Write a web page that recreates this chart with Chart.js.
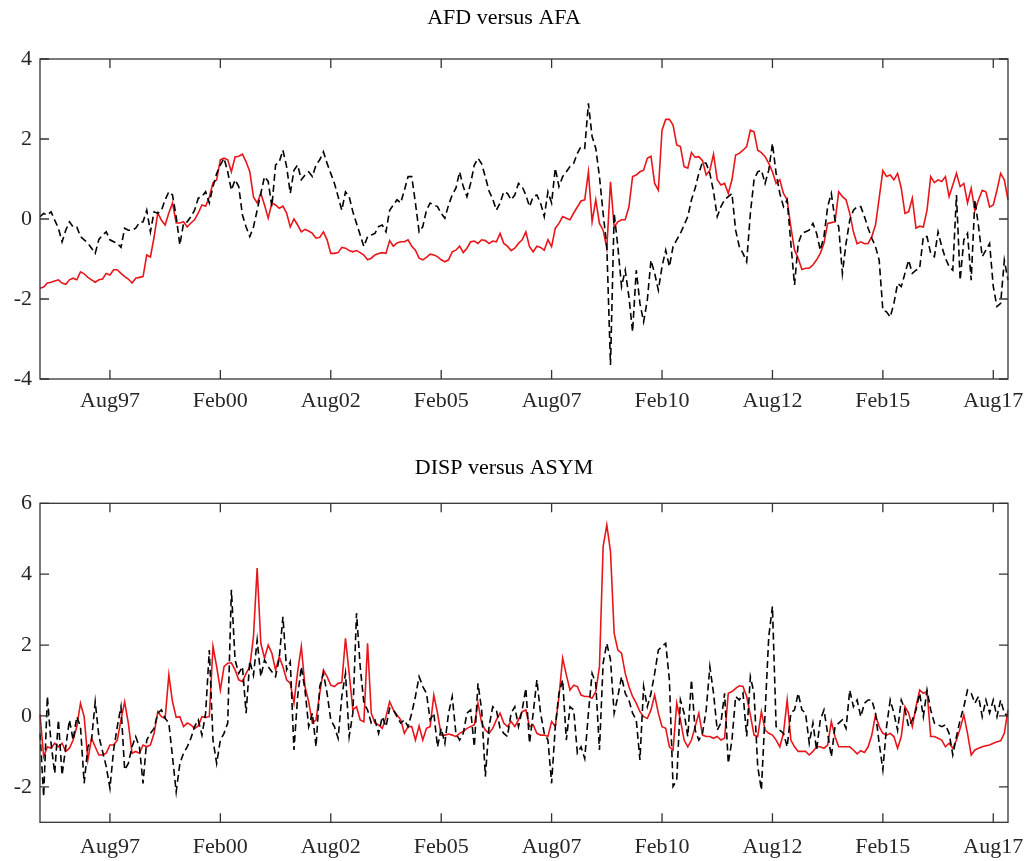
<!DOCTYPE html>
<html>
<head>
<meta charset="utf-8">
<script src="https://cdn.jsdelivr.net/npm/chart.js@4.4.1/dist/chart.umd.min.js"></script>
<style>
  html, body { margin: 0; padding: 0; background: #fff; overflow: hidden; }
  #top { position: absolute; left: 0; top: 0; }
  #bottom { position: absolute; left: 0; top: 440px; }
</style>
</head>
<body>
<canvas id="top" width="1032" height="440"></canvas>
<canvas id="bottom" width="1032" height="430"></canvas>
<script>
// monthly observations, Jan96 .. Dec17
const monthNames = ['Jan','Feb','Mar','Apr','May','Jun','Jul','Aug','Sep','Oct','Nov','Dec'];
const months = [];
for (let yr = 1996; yr <= 2017; yr++) {
  monthNames.forEach(m => months.push(m + String(yr).slice(2)));
}

const tickLabels = ['Aug97','Feb00','Aug02','Feb05','Aug07','Feb10','Aug12','Feb15','Aug17'];
const yTicksTop = [-4, -2, 0, 2, 4];
const yTicksBottom = [-2, 0, 2, 4, 6];

// AFD versus AFA
const afd = [
  -1.73,-1.7,-1.6,-1.58,-1.55,-1.52,-1.6,-1.63,-1.52,-1.48,
  -1.52,-1.32,-1.37,-1.46,-1.52,-1.58,-1.52,-1.5,-1.36,-1.4,
  -1.27,-1.27,-1.36,-1.44,-1.5,-1.6,-1.48,-1.46,-1.44,-0.9,
  -0.95,-0.45,0.15,-0.03,-0.15,0.15,0.4,-0.1,-0.1,-0.07,
  -0.2,-0.1,-0.02,0.15,0.35,0.32,0.55,0.9,0.98,1.48,
  1.52,1.48,1.18,1.55,1.57,1.62,1.43,1.18,0.55,0.4,
  0.64,0.35,0.02,0.4,0.35,0.27,0.32,0.15,-0.2,0,
  -0.15,-0.32,-0.26,-0.3,-0.36,-0.48,-0.46,-0.32,-0.52,-0.86,
  -0.86,-0.84,-0.71,-0.73,-0.79,-0.82,-0.79,-0.84,-0.9,-1.02,
  -0.98,-0.9,-0.86,-0.84,-0.86,-0.54,-0.68,-0.6,-0.57,-0.57,
  -0.52,-0.68,-0.78,-0.98,-1.02,-0.96,-0.88,-0.9,-0.94,-1.02,
  -1.07,-1.02,-0.82,-0.78,-0.68,-0.84,-0.73,-0.57,-0.55,-0.61,
  -0.52,-0.54,-0.61,-0.55,-0.57,-0.36,-0.61,-0.68,-0.79,-0.73,
  -0.61,-0.52,-0.32,-0.69,-0.82,-0.68,-0.71,-0.78,-0.52,-0.69,
  -0.23,-0.11,0.06,0.02,-0.02,0.15,0.3,0.45,0.48,1.18,
  -0.07,0.48,-0.11,-0.28,-0.73,0.93,-0.2,-0.07,-0.02,-0.02,
  0.3,1.06,1.1,1.18,1.22,1.52,1.57,0.89,0.72,2.22,
  2.49,2.49,2.35,1.85,1.81,1.31,1.27,1.66,1.54,1.56,
  1.46,1.1,1.22,1.62,0.98,0.85,0.89,0.64,0.98,1.6,
  1.64,1.72,1.81,2.22,2.18,1.72,1.66,1.56,1.39,1.18,
  0.89,0.98,0.64,0.48,-0.2,-0.78,-0.98,-1.26,-1.23,-1.23,
  -1.15,-1.02,-0.86,-0.61,-0.11,-0.09,-0.07,0.68,0.56,0.48,
  0.14,-0.32,-0.62,-0.57,-0.62,-0.61,-0.44,-0.15,0.52,1.21,
  1.06,1.1,0.98,1.14,0.77,0.14,0.18,0.52,-0.23,-0.18,
  -0.2,0.22,1.06,0.91,0.98,0.94,1.06,0.56,0.85,1.14,
  0.81,0.89,0.4,0.77,0.21,0.48,0.72,0.68,0.3,0.35,
  0.72,1.14,0.98,0.48
];
const afa = [
  0.06,0.14,0.1,0.18,-0.03,-0.23,-0.57,-0.28,-0.07,-0.2,
  -0.2,-0.44,-0.52,-0.6,-0.73,-0.86,-0.51,-0.4,-0.32,-0.52,
  -0.57,-0.61,-0.71,-0.23,-0.28,-0.28,-0.23,-0.09,-0.07,0.22,
  -0.32,0.18,0.14,0.22,0.48,0.68,0.6,0.06,-0.65,-0.11,
  -0.07,0.06,0.22,0.52,0.56,0.68,0.4,0.81,1.14,1.35,
  1.52,1.18,0.72,0.98,0.81,0.1,-0.2,-0.44,-0.2,0.22,
  0.64,1.06,0.94,0.31,1.35,1.43,1.72,1.31,0.64,1.22,
  1.35,0.98,1.1,1.18,1.06,1.35,1.48,1.68,1.39,1.14,
  0.89,0.56,0.22,0.68,0.56,0.18,-0.11,-0.4,-0.69,-0.44,
  -0.4,-0.36,-0.19,-0.15,-0.32,0.22,0.35,0.48,0.4,0.72,
  1.06,1.06,0.4,-0.32,-0.19,0.22,0.4,0.35,0.31,0.14,
  0.02,0.35,0.6,0.77,1.18,0.81,0.56,0.89,1.35,1.52,
  1.38,1.05,0.7,0.5,0.22,0.4,0.68,0.64,0.48,0.6,
  0.89,0.81,0.6,0.31,0.56,0.6,0.4,0.06,0.68,0.4,
  1.27,0.81,1.06,1.18,1.31,1.39,1.64,1.81,1.77,2.89,
  2.06,1.77,1.06,0.14,-0.69,-3.65,0.14,-0.69,-1.69,-1.28,
  -1.94,-2.82,-1.28,-2.11,-2.57,-2.03,-1.03,-1.36,-1.78,-1.19,
  -0.78,-1.19,-0.69,-0.52,-0.36,-0.15,0.06,0.48,0.77,1.14,
  1.43,1.39,1.14,0.68,0.06,0.31,0.48,0.56,0.64,-0.28,
  -0.69,-0.86,-1.07,0.14,0.98,1.18,1.22,0.89,1.22,1.89,
  1.14,0.64,0.31,0.48,-0.61,-1.65,-0.61,-0.36,-0.32,-0.28,
  -0.11,-0.36,-0.78,-0.44,0.31,0.64,-0.03,-0.19,-1.36,-0.61,
  -0.03,0.22,0.31,0.31,0.06,-0.23,-0.48,-0.69,-1.03,-2.28,
  -2.32,-2.45,-2.11,-1.61,-1.69,-1.36,-1.03,-1.36,-1.28,-1.23,
  -0.44,-0.44,-0.86,-0.94,-0.32,-0.69,-0.98,-1.19,-1.28,0.6,
  -1.53,-0.52,-0.36,-1.53,0.48,-0.19,-0.94,-0.78,-0.61,-1.69,
  -2.19,-2.11,-1.03,-1.53
];

// DISP versus ASYM
const disp = [
  0.05,-1.15,-0.87,-0.91,-0.77,-0.87,-0.77,-1.0,-0.91,-0.68,
  -0.3,0.36,-0.02,-1.24,-0.63,-0.87,-1.1,-1.1,-1.05,-0.82,
  -0.82,-0.68,-0.11,0.4,-0.2,-1.05,-1.0,-1.05,-0.82,-0.87,
  -0.82,-0.49,0.12,-0.02,-0.07,1.16,0.4,-0.04,-0.02,-0.3,
  -0.2,-0.25,-0.35,-0.28,-0.02,-0.04,-0.02,1.96,1.39,0.73,
  1.39,1.49,1.5,1.3,1.02,0.97,1.2,1.39,2.24,4.17,
  2.05,1.63,2.0,1.77,1.3,1.67,1.39,1.02,0.92,0.36,
  1.25,1.96,0.83,0.4,-0.2,-0.11,0.64,1.3,1.11,0.87,
  0.83,0.92,0.94,2.19,1.2,0.17,0.26,-0.11,-0.16,2.05,
  0.08,-0.2,-0.25,-0.35,-0.02,0.4,0.17,0.03,-0.11,-0.49,
  -0.3,-0.3,-0.68,-0.28,-0.68,-0.35,-0.3,0.59,0.08,-0.54,
  -0.54,-0.51,-0.54,-0.58,-0.49,-0.44,-0.35,-0.3,-0.25,0.36,
  -0.2,-0.4,-0.49,-0.35,-0.11,0.08,-0.2,-0.3,-0.16,-0.3,
  -0.11,0.12,0.17,-0.3,-0.25,-0.49,-0.54,-0.54,-0.58,-0.16,
  -0.3,0.55,1.63,1.16,0.73,0.87,0.83,0.59,0.55,0.55,
  0.5,0.69,1.39,4.78,5.39,4.64,2.33,1.86,1.77,1.2,
  0.83,0.55,0.36,0.12,-0.02,-0.07,0.17,0.59,0.08,-0.3,
  -0.35,-0.87,-0.96,0.36,-0.11,-0.68,-0.87,-0.68,-0.3,0.08,
  -0.54,-0.58,-0.58,-0.63,-0.58,-0.68,-0.63,0.64,0.69,0.78,
  0.85,0.83,0.55,0.03,-0.54,-0.58,0.12,-0.4,-0.49,-0.54,
  -0.68,-0.87,-0.49,0.45,-0.68,-0.87,-1.0,-1.0,-1.0,-1.1,
  -1.0,-0.87,-0.87,-0.91,-0.82,-0.16,-0.58,-0.87,-0.87,-0.87,
  -0.87,-0.96,-1.07,-0.98,-1.03,-0.87,-0.54,0.03,-0.3,-0.49,
  -0.54,-0.49,-0.58,-0.91,-0.58,0.26,0.08,-0.3,0.26,0.73,
  0.64,0.69,-0.58,-0.58,-0.63,-0.68,-0.87,-0.77,-0.91,-0.68,
  -0.35,0.03,-0.49,-1.1,-0.96,-0.91,-0.87,-0.84,-0.82,-0.77,
  -0.73,-0.7,-0.49,0.17
];
const asym = [
  -0.49,-2.28,0.55,-0.77,-1.62,-0.11,-1.67,-0.87,-0.11,-0.68,
  -0.02,-0.3,-1.9,-0.87,-0.68,0.4,-0.58,-1.0,-1.43,-2.04,
  -0.96,-0.3,0.26,-1.52,-1.34,-0.87,-0.58,-0.87,-1.9,-0.68,
  -0.49,-0.35,0.08,0.17,-0.07,-0.2,-1.15,-2.14,-1.34,-1.05,
  -0.87,-0.63,-0.3,-0.11,-0.54,0.08,1.86,-0.68,-1.34,-0.68,
  -0.49,-0.2,3.56,1.58,1.2,1.39,0.08,1.55,1.15,2.14,
  1.11,1.58,1.39,1.25,1.11,1.63,2.8,1.3,1.53,-0.96,
  0.55,1.39,0.73,-0.3,0.08,-0.87,0.83,1.2,0.64,-0.11,
  -0.3,-0.63,0.55,1.2,-0.58,0.08,2.9,1.39,0.36,0.17,
  -0.2,-0.11,-0.49,-0.02,-0.3,0.22,0.17,-0.02,-0.2,-0.11,
  -0.3,0.08,0.55,1.11,0.83,0.64,-0.11,0.08,-0.87,-0.35,
  -0.77,0.08,0.55,-0.49,-0.68,-0.49,0.08,0.17,-0.87,0.92,
  0.17,-1.71,-0.3,0.26,0.17,-0.35,-0.49,-0.58,0.08,0.26,
  -0.3,0.17,0.78,-0.77,0.08,1.02,0.08,-0.49,-0.68,-1.9,
  -0.3,0.64,1.02,-0.68,0.26,0.17,-1.05,-0.87,-1.2,0.08,
  1.2,0.92,-0.96,1.49,2.05,1.58,0.08,0.55,1.11,0.64,
  0.45,0.08,-0.11,-1.24,0.83,0.26,0.64,1.2,1.86,1.96,
  2.05,1.02,-1.99,-1.81,0.45,0.08,-0.58,1.02,-0.4,-0.68,
  -0.49,0.17,1.39,0.64,-0.4,-0.2,0.64,-1.34,-0.68,0.55,
  0.45,0.64,-0.58,1.11,0.64,-1.43,-2.09,0.08,2.24,3.09,
  -0.3,-0.4,-0.49,-0.87,0.08,0.17,0.64,0.17,0.08,-0.77,
  -0.2,-0.96,-0.11,0.17,-0.49,-1.15,-0.3,-0.2,-0.11,-0.35,
  0.73,0.26,0.45,-0.02,0.36,0.45,0.45,0.08,-0.77,-1.52,
  -0.3,0.45,0.08,-0.4,0.45,0.17,-0.3,-0.11,0.17,0.64,
  -0.02,0.73,0.17,-0.2,-0.25,-0.3,-0.25,-0.49,-1.1,-0.58,
  -0.11,0.26,0.73,0.64,0.36,0.55,-0.02,0.45,0.08,0.45,
  -0.02,0.45,0.08,-0.02
];

const FONT = "'Liberation Serif', 'Times New Roman', serif";
const RED = '#e8161b';
const FRAME = '#333333';

// box around the axes with inward tick marks on all four sides
const boxPlugin = {
  id: 'box',
  afterDatasetsDraw(chart) {
    const { ctx, chartArea: a, scales } = chart;
    const len = 9;
    ctx.save();
    ctx.strokeStyle = FRAME;
    ctx.lineWidth = 1.3;
    ctx.beginPath();
    scales.x.ticks.forEach(t => {
      const px = scales.x.getPixelForValue(t.value);
      ctx.moveTo(px, a.bottom); ctx.lineTo(px, a.bottom - len);
      ctx.moveTo(px, a.top); ctx.lineTo(px, a.top + len);
    });
    scales.y.ticks.forEach(t => {
      const py = scales.y.getPixelForValue(t.value);
      ctx.moveTo(a.left, py); ctx.lineTo(a.left + len, py);
      ctx.moveTo(a.right, py); ctx.lineTo(a.right - len, py);
    });
    ctx.stroke();
    ctx.strokeRect(a.left, a.top, a.right - a.left, a.bottom - a.top);
    ctx.restore();
  }
};

function makeChart(id, title, redVals, blackVals, yMin, yMax, yTicks, titlePad, xHeight, xPad) {
  return new Chart(document.getElementById(id), {
    type: 'line',
    data: {
      labels: months,
      datasets: [
        {
          data: blackVals,
          borderColor: '#000',
          borderWidth: 1.6,
          borderDash: [7, 4],
          pointRadius: 0,
          tension: 0,
          fill: false
        },
        {
          data: redVals,
          borderColor: RED,
          borderWidth: 1.6,
          pointRadius: 0,
          tension: 0,
          fill: false
        }
      ]
    },
    options: {
      responsive: false,
      animation: false,
      events: [],
      layout: { padding: { left: 0, right: 24, top: 0, bottom: 0 } },
      plugins: {
        legend: { display: false },
        tooltip: { enabled: false },
        title: {
          display: true,
          text: title,
          color: '#000',
          font: { family: FONT, size: 22, weight: 'normal', lineHeight: 1.2 },
          padding: titlePad
        }
      },
      scales: {
        x: {
          type: 'category',
          offset: false,
          grid: { display: false, drawTicks: false },
          border: { display: false },
          ticks: {
            autoSkip: false,
            maxRotation: 0,
            padding: xPad,
            color: '#262626',
            font: { family: FONT, size: 22 }
          },
          afterBuildTicks: (scale) => {
            scale.ticks = tickLabels.map(l => ({ value: months.indexOf(l) }));
          },
          afterFit: (scale) => {
            scale.height = xHeight;
            scale.paddingLeft = 0;
            scale.paddingRight = 0;
          }
        },
        y: {
          min: yMin,
          max: yMax,
          grid: { display: false, drawTicks: false },
          border: { display: false },
          ticks: {
            padding: 8,
            color: '#262626',
            font: { family: FONT, size: 22 }
          },
          afterBuildTicks: (scale) => {
            scale.ticks = yTicks.map(v => ({ value: v }));
          },
          afterFit: (scale) => {
            scale.width = 40;
            scale.paddingTop = 0;
            scale.paddingBottom = 0;
          }
        }
      }
    },
    plugins: [boxPlugin]
  });
}

makeChart('top', 'AFD versus AFA', afd, afa, -4, 4, yTicksTop,
  { top: 5, bottom: 27.6 }, 61, 9);
makeChart('bottom', 'DISP versus ASYM', disp, asym, -3, 6, yTicksBottom,
  { top: 14.8, bottom: 22.1 }, 47.7, 12);
</script>
</body>
</html>
